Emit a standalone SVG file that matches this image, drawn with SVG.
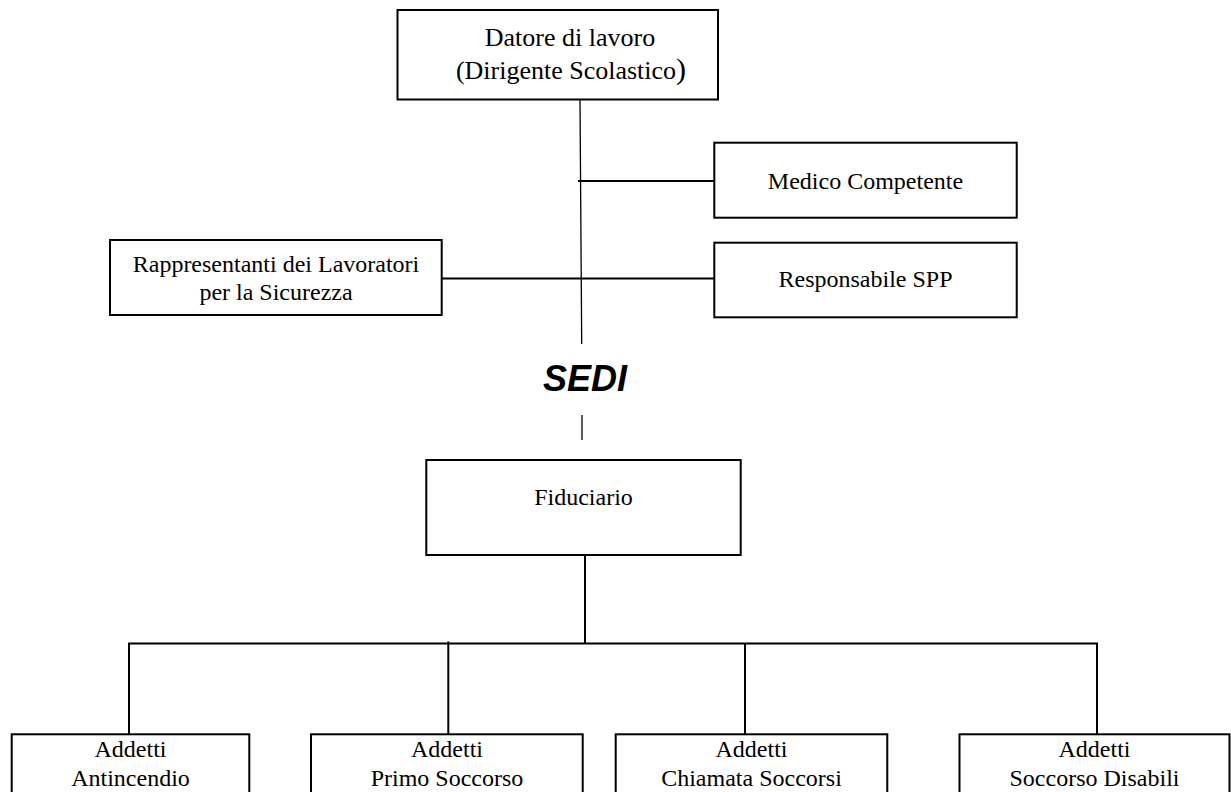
<svg xmlns="http://www.w3.org/2000/svg" width="1231" height="792" viewBox="0 0 1231 792">
<style>
.box{fill:#fff;stroke:#000;stroke-width:2}
.t{font-family:"Liberation Serif","Times New Roman",serif;font-size:24px;fill:#000;text-anchor:middle}
.big{font-size:26px}
.c{stroke:#000;stroke-width:2;fill:none}
.thin{stroke:#000;stroke-width:1.3;fill:none}
.sedi{font-family:"Liberation Sans",Arial,sans-serif;font-size:36px;font-weight:bold;font-style:italic;text-anchor:middle;fill:#000}
</style>
<rect width="1231" height="792" fill="#fff"/>
<g id="connectors">
<line class="thin" x1="580" y1="100" x2="581.7" y2="344"/>
<line class="thin" x1="582" y1="415" x2="582" y2="440"/>
<line class="c" x1="578" y1="181" x2="714" y2="181"/>
<line class="c" x1="442" y1="278.5" x2="714" y2="278.5"/>
<line class="c" x1="585" y1="555" x2="585" y2="643.5"/>
<line class="c" x1="128" y1="643.5" x2="1098" y2="643.5"/>
<line class="c" x1="129" y1="643.5" x2="129" y2="734"/>
<line class="c" x1="448.3" y1="641.5" x2="448.3" y2="734"/>
<line class="c" x1="745" y1="643.5" x2="745" y2="734"/>
<line class="c" x1="1097" y1="643.5" x2="1097" y2="734"/>
</g>
<g id="datore">
<rect class="box" x="397.5" y="10" width="320.5" height="89.5"/>
<text class="t big" x="570" y="45.5">Datore di lavoro</text>
<text class="t big" x="571" y="78.5">(Dirigente Scolastico<tspan font-size="30">)</tspan></text>
</g>
<g id="medico">
<rect class="box" x="714.3" y="142.7" width="302.4" height="75"/>
<text class="t" x="865.5" y="188.5">Medico Competente</text>
</g>
<g id="rspp">
<rect class="box" x="714.3" y="242.7" width="302.4" height="74.6"/>
<text class="t" x="865.5" y="287">Responsabile SPP</text>
</g>
<g id="rls">
<rect class="box" x="110" y="240" width="331.7" height="75"/>
<text class="t" x="276" y="272">Rappresentanti dei Lavoratori</text>
<text class="t" x="276" y="300">per la Sicurezza</text>
</g>
<g id="sedi">
<text class="sedi" x="585" y="391">SEDI</text>
</g>
<g id="fiduciario">
<rect class="box" x="426.3" y="460" width="314.4" height="95"/>
<text class="t" x="583.5" y="505">Fiduciario</text>
</g>
<g id="antincendio">
<rect class="box" x="11.7" y="734.3" width="237.6" height="70"/>
<text class="t" x="130.5" y="757">Addetti</text>
<text class="t" x="130.5" y="786">Antincendio</text>
</g>
<g id="primosoccorso">
<rect class="box" x="311" y="734.3" width="271.7" height="70"/>
<text class="t" x="447" y="757">Addetti</text>
<text class="t" x="447" y="786">Primo Soccorso</text>
</g>
<g id="chiamata">
<rect class="box" x="615.7" y="734.3" width="271.6" height="70"/>
<text class="t" x="751.5" y="757">Addetti</text>
<text class="t" x="751.5" y="786">Chiamata Soccorsi</text>
</g>
<g id="disabili">
<rect class="box" x="959.5" y="734.3" width="270" height="70"/>
<text class="t" x="1094.5" y="757">Addetti</text>
<text class="t" x="1094.5" y="786">Soccorso Disabili</text>
</g>
</svg>
